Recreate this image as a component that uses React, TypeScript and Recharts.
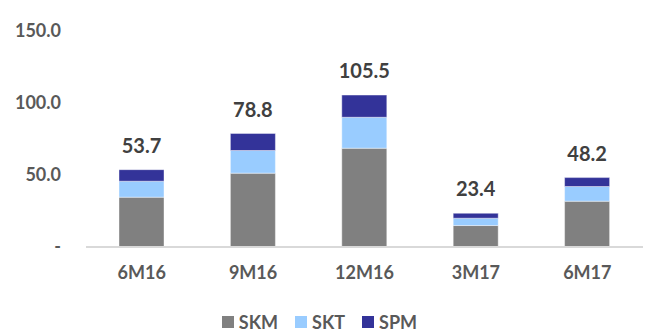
import { Bar, BarChart, LabelList, XAxis, YAxis } from "recharts";

const periods = ["6M16", "9M16", "12M16", "3M17", "6M17"];
const skm = [34.6, 51.3, 68.6, 14.9, 31.8];
const skt = [11.1, 15.7, 21.5, 5.1, 10.2];
const spm = [8.0, 11.8, 15.4, 3.4, 6.2];
const yTicks = [0, 50, 100, 150];

const series = [
  { key: "SKM", color: "#808080" },
  { key: "SKT", color: "#99CCFF" },
  { key: "SPM", color: "#333399" },
];

const chartData = periods.map((name, i) => ({
  name,
  SKM: skm[i],
  SKT: skt[i],
  SPM: spm[i],
  total: +(skm[i] + skt[i] + spm[i]).toFixed(1),
}));

const font = "Lato, 'Open Sans', sans-serif";

const LegendContent = () => (
  <div
    style={{
      position: "absolute",
      left: 0,
      top: 311,
      width: 639,
      display: "flex",
      justifyContent: "center",
      gap: 17,
      fontFamily: font,
    }}
  >
    {series.map((s) => (
      <div key={s.key} style={{ display: "flex", alignItems: "center", gap: 5 }}>
        <span style={{ width: 12, height: 12, background: s.color, display: "inline-block" }} />
        <span style={{ color: "#595959", fontWeight: 700, fontSize: 18 }}>{s.key}</span>
      </div>
    ))}
  </div>
);

export default function App() {
  return (
    <div style={{ position: "absolute", left: 0, top: 0, width: 649, height: 334, background: "#fff" }}>
      <BarChart
        width={649}
        height={334}
        data={chartData}
        margin={{ top: 31, right: 6, bottom: 57, left: 0 }}
        barSize={45}
      >
        <YAxis
          width={86}
          domain={[0, 150]}
          ticks={yTicks}
          axisLine={false}
          tickLine={false}
          tickSize={0}
          tickMargin={25}
          tick={{ fill: "#595959", fontSize: 18, fontWeight: 700, fontFamily: font }}
          tickFormatter={(v: number) => (v === 0 ? "-" : v.toFixed(1))}
        />
        <XAxis
          dataKey="name"
          height={30}
          axisLine={{ stroke: "#d9d9d9", strokeWidth: 2 }}
          tickLine={false}
          tickSize={0}
          tickMargin={19}
          tick={{ fill: "#595959", fontSize: 18, fontWeight: 700, fontFamily: font }}
        />
        {series.map((s, idx) => (
          <Bar
            key={s.key}
            dataKey={s.key}
            stackId="a"
            fill={s.color}
            stroke="#ffffff"
            strokeOpacity={0.4}
            strokeWidth={1}
            isAnimationActive={false}
          >
            {idx === series.length - 1 && (
              <LabelList
                dataKey="total"
                position="top"
                offset={17}
                fill="#404040"
                fontSize={20}
                fontWeight={700}
                fontFamily={font}
                formatter={(v: any) => Number(v).toFixed(1)}
              />
            )}
          </Bar>
        ))}
      </BarChart>
      <LegendContent />
    </div>
  );
}
